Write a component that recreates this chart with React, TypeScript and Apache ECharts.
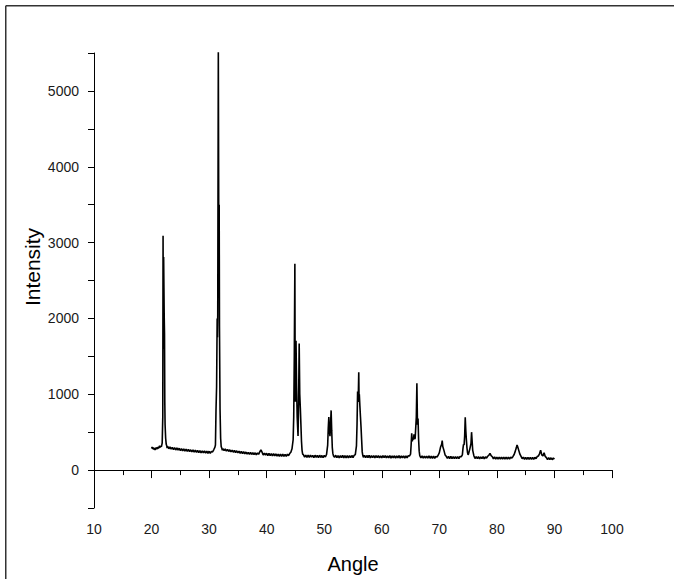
import React, { useEffect, useRef } from "react";
import * as echarts from "echarts";

// XRD pattern, [angle, intensity] pairs
const seg20to23: number[][] = [
  [20.0, 285], [20.1, 305], [20.2, 278], [20.3, 300], [20.4, 270], [20.5, 292], [20.6, 265],
  [20.7, 285], [20.8, 296], [20.9, 275], [21.0, 300], [21.1, 280], [21.2, 310], [21.3, 290],
  [21.4, 322], [21.5, 300], [21.6, 318], [21.7, 305], [21.8, 340], [21.85, 360], [21.95, 700],
  [22.0, 3090], [22.05, 1600], [22.1, 2810], [22.15, 2400], [22.2, 2020], [22.25, 1800],
  [22.3, 900], [22.35, 600], [22.45, 420], [22.55, 340], [22.65, 318], [22.7, 290],
];
const seg23to32: number[][] = [
  [22.8, 312], [23.0, 282], [23.2, 305], [23.4, 276], [23.6, 300], [23.8, 270], [24.0, 296],
  [24.2, 265], [24.4, 292], [24.6, 262], [24.8, 288], [25.0, 258], [25.2, 284], [25.4, 254],
  [25.6, 280], [25.8, 250], [26.0, 276], [26.2, 246], [26.4, 272], [26.6, 243], [26.8, 268],
  [27.0, 240], [27.2, 265], [27.4, 236], [27.6, 262], [27.8, 233], [28.0, 259], [28.2, 230],
  [28.4, 257], [28.6, 228], [28.8, 254], [29.0, 226], [29.2, 252], [29.4, 224], [29.6, 250],
  [29.8, 222], [30.0, 248], [30.2, 220], [30.4, 246], [30.6, 240], [30.8, 268], [31.0, 300],
  [31.1, 330], [31.2, 800], [31.3, 1100], [31.4, 2000], [31.45, 1750], [31.5, 2050],
  [31.6, 5520], [31.7, 2600], [31.75, 3500], [31.8, 1900], [31.9, 800], [32.0, 420],
  [32.1, 310], [32.2, 290],
];
const seg32to46: number[][] = [
  [32.3, 262], [32.4, 282], [32.6, 256], [32.8, 278], [33.0, 250], [33.2, 272], [33.4, 246],
  [33.6, 268], [33.8, 240], [34.0, 262], [34.2, 236], [34.4, 258], [34.6, 232], [34.8, 254],
  [35.0, 226], [35.2, 250], [35.4, 222], [35.6, 246], [35.8, 218], [36.0, 242], [36.2, 214],
  [36.4, 238], [36.6, 212], [36.8, 234], [37.0, 208], [37.2, 232], [37.4, 206], [37.6, 230],
  [37.8, 204], [38.0, 228], [38.2, 202], [38.4, 226], [38.6, 208], [38.8, 240], [39.0, 268],
  [39.2, 236], [39.4, 198], [39.6, 224], [39.8, 196], [40.0, 222], [40.2, 192], [40.4, 220],
  [40.6, 190], [40.8, 218], [41.0, 188], [41.2, 216], [41.4, 186], [41.6, 214], [41.8, 184],
  [42.0, 212], [42.2, 182], [42.4, 210], [42.6, 182], [42.8, 210], [43.0, 180], [43.2, 208],
  [43.4, 182], [43.6, 210], [43.8, 190], [44.0, 218], [44.2, 236], [44.4, 280], [44.6, 400],
  [44.7, 700], [44.8, 1500], [44.9, 2720], [44.95, 1200], [45.0, 900], [45.1, 1706],
  [45.2, 1100], [45.3, 700], [45.45, 450], [45.55, 900], [45.65, 1668], [45.75, 1000],
  [45.85, 818], [45.95, 600], [46.05, 380], [46.15, 260], [46.25, 210],
];
const seg46to56: number[][] = [
  [46.4, 202], [46.6, 172], [46.8, 198], [47.0, 168], [47.2, 196], [47.4, 166], [47.6, 198],
  [47.8, 170], [48.0, 194], [48.2, 164], [48.4, 196], [48.6, 168], [48.8, 194], [49.0, 164],
  [49.2, 196], [49.4, 166], [49.6, 192], [49.8, 164], [50.0, 194], [50.2, 172], [50.4, 205],
  [50.6, 330], [50.7, 550], [50.8, 700], [50.9, 520], [51.0, 446], [51.1, 600], [51.2, 787],
  [51.3, 520], [51.4, 300], [51.5, 220], [51.6, 190],
  [51.8, 168], [52.0, 196], [52.2, 164], [52.4, 192], [52.6, 162], [52.8, 192], [53.0, 164],
  [53.2, 194], [53.4, 160], [53.6, 190], [53.8, 162], [54.0, 192], [54.2, 160], [54.4, 190],
  [54.6, 163], [54.8, 192], [55.0, 166], [55.2, 194], [55.4, 205], [55.6, 320], [55.7, 600],
  [55.8, 1037], [55.9, 900], [56.0, 1290], [56.05, 950], [56.1, 1000], [56.2, 840],
  [56.3, 700], [56.4, 560], [56.5, 400], [56.6, 240], [56.7, 195],
];
const seg57to67: number[][] = [
  [56.8, 168], [57.0, 194], [57.2, 164], [57.4, 192], [57.6, 166], [57.8, 194], [58.0, 162],
  [58.2, 190], [58.4, 164], [58.6, 192], [58.8, 160], [59.0, 190], [59.2, 164], [59.4, 192],
  [59.6, 162], [59.8, 188], [60.0, 160], [60.2, 190], [60.4, 163], [60.6, 191], [60.8, 160],
  [61.0, 188], [61.2, 162], [61.4, 190], [61.6, 159], [61.8, 188], [62.0, 161], [62.2, 189],
  [62.4, 158], [62.6, 188], [62.8, 160], [63.0, 190], [63.2, 158], [63.4, 187], [63.6, 160],
  [63.8, 189], [64.0, 158], [64.2, 186], [64.4, 162], [64.6, 190], [64.8, 185], [65.0, 210],
  [65.1, 330], [65.2, 485], [65.3, 380], [65.4, 420], [65.5, 400], [65.6, 470], [65.7, 410],
  [65.8, 420], [65.9, 560], [66.0, 700], [66.1, 1146], [66.2, 600], [66.3, 680], [66.4, 400],
  [66.5, 250], [66.6, 190],
];
const seg67to76: number[][] = [
  [66.8, 160], [67.0, 186], [67.2, 158], [67.4, 185], [67.6, 157], [67.8, 184], [68.0, 158],
  [68.2, 186], [68.4, 156], [68.6, 183], [68.8, 155], [69.0, 184], [69.2, 156], [69.4, 182],
  [69.6, 170], [69.8, 196], [70.0, 230], [70.2, 300], [70.4, 340], [70.5, 390], [70.6, 310],
  [70.8, 260], [71.0, 200], [71.2, 182], [71.4, 154], [71.6, 181], [71.8, 152], [72.0, 180],
  [72.2, 150], [72.4, 179], [72.6, 151], [72.8, 178], [73.0, 150], [73.2, 177], [73.4, 152],
  [73.6, 180], [73.8, 175], [74.0, 200], [74.1, 280], [74.2, 340], [74.3, 330], [74.4, 450],
  [74.5, 695], [74.6, 520], [74.7, 400], [74.8, 293], [74.9, 230], [75.0, 200], [75.1, 220],
  [75.3, 280], [75.5, 350], [75.6, 500], [75.7, 380], [75.8, 260], [76.0, 190],
];
const seg76to90: number[][] = [
  [76.2, 152], [76.4, 178], [76.6, 150], [76.8, 176], [77.0, 149], [77.2, 175], [77.4, 150],
  [77.6, 176], [77.8, 148], [78.0, 174], [78.2, 158], [78.4, 182], [78.6, 196], [78.8, 220],
  [79.0, 190], [79.2, 176], [79.4, 148], [79.6, 174], [79.8, 146], [80.0, 172], [80.2, 145],
  [80.4, 171], [80.6, 146], [80.8, 172], [81.0, 144], [81.2, 170], [81.4, 145], [81.6, 171],
  [81.8, 144], [82.0, 170], [82.2, 146], [82.4, 172], [82.6, 158], [82.8, 180], [83.0, 205],
  [83.2, 250], [83.4, 300], [83.5, 330], [83.6, 310], [83.8, 260], [84.0, 210], [84.2, 180],
  [84.4, 150], [84.6, 170], [84.8, 143], [85.0, 168], [85.2, 142], [85.4, 168], [85.6, 141],
  [85.8, 167], [86.0, 142], [86.2, 166], [86.4, 140], [86.6, 168], [86.8, 150], [87.0, 178],
  [87.2, 185], [87.4, 215], [87.6, 262], [87.8, 200], [88.0, 185], [88.2, 228], [88.4, 180],
  [88.6, 165], [88.8, 140], [89.0, 164], [89.2, 138], [89.4, 162], [89.6, 137], [89.8, 160],
  [90.0, 145],
];

const xTitle = "Angle";
const yTitle = "Intensity";

export default function App() {
  const ref = useRef<HTMLDivElement>(null);
  useEffect(() => {
    if (!ref.current) return;
    const chart = echarts.init(ref.current, null, { renderer: "svg" });
    const data = [
      ...seg20to23, ...seg23to32, ...seg32to46, ...seg46to56,
      ...seg57to67, ...seg67to76, ...seg76to90,
    ];
    const font = "Arial, 'Liberation Sans', sans-serif";
    chart.setOption({
      animation: false,
      backgroundColor: "#fff",
      grid: { left: 94, right: 62, top: 53, bottom: 66 },
      xAxis: {
        type: "value",
        min: 10,
        max: 100,
        interval: 10,
        splitLine: { show: false },
        axisLine: { lineStyle: { color: "#000", width: 1 } },
        axisTick: { length: 8, lineStyle: { color: "#000" } },
        minorTick: { show: true, splitNumber: 2, length: 5, lineStyle: { color: "#000" } },
        axisLabel: { color: "#1a1a1a", fontSize: 14, fontFamily: font, margin: 14 },
        name: xTitle,
        nameLocation: "middle",
        nameGap: 46,
        nameTextStyle: { color: "#000", fontSize: 20, fontFamily: font },
      },
      yAxis: {
        type: "value",
        min: -500,
        max: 5500,
        interval: 500,
        splitLine: { show: false },
        axisLine: { lineStyle: { color: "#000", width: 1 } },
        axisTick: { length: 6, lineStyle: { color: "#000" } },
        axisLabel: {
          color: "#1a1a1a",
          fontSize: 14,
          fontFamily: font,
          margin: 15,
          formatter: (v: number) => (v >= 0 && v % 1000 === 0 ? String(v) : ""),
        },
      },
      graphic: [
        { type: "line", shape: { x1: 5.75, y1: 5.75, x2: 674, y2: 5.75 }, style: { stroke: "#333", lineWidth: 1.5 } },
        { type: "line", shape: { x1: 5.75, y1: 5.75, x2: 5.75, y2: 579 }, style: { stroke: "#333", lineWidth: 1.5 } },
        {
          type: "text",
          x: 32,
          y: 267,
          rotation: Math.PI / 2,
          style: {
            text: yTitle,
            fill: "#000",
            fontSize: 21,
            fontFamily: font,
            textAlign: "center",
            textVerticalAlign: "middle",
          },
        },
      ],
      series: [
        {
          type: "line",
          data,
          showSymbol: false,
          symbol: "none",
          lineStyle: { color: "#000", width: 1.6 },
          itemStyle: { color: "#000" },
        },
      ],
    });
    return () => chart.dispose();
  }, []);
  return (
    <div
      ref={ref}
      style={{ position: "fixed", left: 0, top: 0, width: 674, height: 579, background: "#fff" }}
    />
  );
}
